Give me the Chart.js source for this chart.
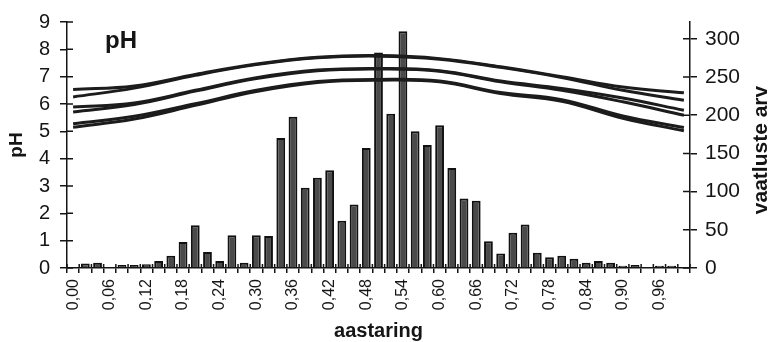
<!DOCTYPE html>
<html>
<head>
<meta charset="utf-8">
<script src="https://cdn.jsdelivr.net/npm/chart.js@4"></script>
<style>
  html, body { margin: 0; padding: 0; background: #fff; }
  #wrap { width: 769px; height: 342px; }
</style>
</head>
<body>
<div id="wrap"><canvas id="c" width="769" height="342"></canvas></div>
<script>
// ---- data ----
const categories = ["0,00","0,02","0,04","0,06","0,08","0,10","0,12","0,14","0,16","0,18",
  "0,20","0,22","0,24","0,26","0,28","0,30","0,32","0,34","0,36","0,38",
  "0,40","0,42","0,44","0,46","0,48","0,50","0,52","0,54","0,56","0,58",
  "0,60","0,62","0,64","0,66","0,68","0,70","0,72","0,74","0,76","0,78",
  "0,80","0,82","0,84","0,86","0,88","0,90","0,92","0,94","0,96","0,98","1,00"];

// number of observations (right axis)
const counts = [0, 6, 7, 0, 4, 4, 5, 9, 16, 34,
  56, 21, 9, 43, 7, 43, 42, 170, 198, 105,
  118, 128, 62, 83, 157, 282, 202, 310, 179, 161,
  187, 131, 91, 88, 35, 19, 46, 57, 20, 14,
  16, 12, 7, 9, 7, 3, 4, 0, 3, 3, 0];

// pH curves, read at every 5th category (0,00, 0,10, ... 1,00)
const curveAt = [0, 5, 10, 15, 20, 25, 30, 35, 40, 45, 50];
const ph1 = [6.53, 6.66, 7.08, 7.46, 7.71, 7.77, 7.66, 7.36, 7.00, 6.62, 6.41];
const ph2 = [6.26, 6.58, 7.05, 7.44, 7.69, 7.75, 7.64, 7.34, 6.97, 6.50, 6.14];
const ph3 = [5.89, 6.04, 6.50, 6.96, 7.24, 7.30, 7.22, 6.84, 6.57, 6.22, 5.77];
const ph4 = [5.71, 5.98, 6.47, 6.93, 7.22, 7.28, 7.20, 6.81, 6.50, 6.08, 5.59];
const ph5 = [5.28, 5.55, 6.01, 6.50, 6.82, 6.90, 6.84, 6.42, 6.16, 5.56, 5.14];
const ph6 = [5.15, 5.45, 5.95, 6.46, 6.79, 6.87, 6.81, 6.38, 6.10, 5.48, 5.02];

const phTicks = [0, 1, 2, 3, 4, 5, 6, 7, 8, 9];
const countTicks = [0, 50, 100, 150, 200, 250, 300];

// ---- helpers ----
function spread(vals) {
  const arr = categories.map(() => null);
  curveAt.forEach((idx, k) => { arr[idx] = vals[k]; });
  return arr;
}
const FONT = "'Liberation Sans', Arial, Helvetica, sans-serif";
const INK = '#151515';

function lineDs(vals) {
  return {
    type: 'line', data: spread(vals), yAxisID: 'y', order: 0,
    borderColor: '#1c1c1c', borderWidth: 3, pointRadius: 0, pointHoverRadius: 0,
    tension: 0.4, spanGaps: true, fill: false
  };
}

const extraPlugin = {
  id: 'extra',
  afterDraw(chart) {
    const ctx = chart.ctx;
    const yL = chart.scales.y, yR = chart.scales.y1, x = chart.scales.x;
    ctx.save();
    ctx.strokeStyle = INK;
    ctx.lineWidth = 1.5;
    ctx.beginPath();
    yL.ticks.forEach(t => {
      const py = yL.getPixelForValue(t.value);
      ctx.moveTo(yL.right, py); ctx.lineTo(yL.right + 6, py);
    });
    yR.ticks.forEach(t => {
      const py = yR.getPixelForValue(t.value);
      ctx.moveTo(yR.left - 7, py); ctx.lineTo(yR.left, py);
    });
    for (let i = 0; i <= categories.length; i++) {
      const px = x.getPixelForValue(i - 0.5);
      ctx.moveTo(px, x.top); ctx.lineTo(px, x.top - 4);
    }
    ctx.stroke();

    ctx.fillStyle = INK;
    // in-plot label
    ctx.font = 'bold 24px ' + FONT;
    ctx.textAlign = 'left';
    ctx.textBaseline = 'alphabetic';
    ctx.fillText('pH', 105, 48);
    // right axis title, reading bottom to top
    ctx.translate(767, 150);
    ctx.rotate(-Math.PI / 2);
    ctx.textAlign = 'center';
    ctx.font = 'bold 21px ' + FONT;
    ctx.fillText('vaatluste arv', 0, 0);
    ctx.restore();
  }
};

new Chart(document.getElementById('c'), {
  type: 'bar',
  data: {
    labels: categories,
    datasets: [
      lineDs(ph1), lineDs(ph2), lineDs(ph3), lineDs(ph4), lineDs(ph5), lineDs(ph6),
      {
        type: 'bar', data: counts, yAxisID: 'y1', order: 1,
        backgroundColor: '#4a4a4a', borderColor: '#111111', borderWidth: 2,
        barPercentage: 0.72, categoryPercentage: 1.0
      }
    ]
  },
  options: {
    responsive: false,
    animation: false,
    events: [],
    layout: { padding: { top: 22, left: 0, right: 0, bottom: 0 } },
    plugins: { legend: { display: false }, tooltip: { enabled: false } },
    scales: {
      x: {
        type: 'category',
        offset: true,
        grid: { display: true, drawOnChartArea: false, offset: true, color: INK, lineWidth: 1.5, tickLength: 5 },
        border: { display: true, color: INK, width: 1.5 },
        ticks: {
          autoSkip: false, minRotation: 90, maxRotation: 90, padding: 6,
          color: INK, font: { family: FONT, size: 16 },
          callback: function(v, idx) { return idx % 3 === 0 ? categories[idx] : ''; }
        },
        title: { display: true, text: 'aastaring', color: INK, font: { family: FONT, size: 20, weight: 'bold' }, padding: { top: 0, bottom: -1 } },
        afterFit(s) { s.height = 74; }
      },
      y: {
        position: 'left', min: 0, max: 9,
        grid: { display: true, drawOnChartArea: false, color: INK, lineWidth: 1.5, tickLength: 7 },
        border: { display: true, color: INK, width: 1.5 },
        ticks: { stepSize: 1, padding: 10, color: INK, font: { family: FONT, size: 20 } },
        afterBuildTicks(s) { s.ticks = phTicks.map(v => ({ value: v })); },
        title: { display: true, text: 'pH', color: INK, font: { family: FONT, size: 19, weight: 'bold' }, padding: { top: 5, bottom: 0 } },
        afterFit(s) { s.width = 67; }
      },
      y1: {
        position: 'right', min: 0, max: 322,
        grid: { display: true, drawOnChartArea: false, color: INK, lineWidth: 1.5, tickLength: 7 },
        border: { display: true, color: INK, width: 1.5 },
        ticks: { stepSize: 50, includeBounds: false, padding: 8, color: INK, font: { family: FONT, size: 21 } },
        afterBuildTicks(s) { s.ticks = countTicks.map(v => ({ value: v })); },
        afterFit(s) { s.width = 79; }
      }
    }
  },
  plugins: [extraPlugin]
});
</script>
</body>
</html>
